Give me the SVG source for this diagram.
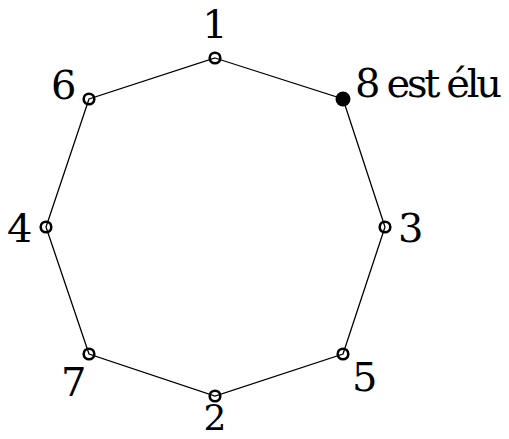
<svg xmlns="http://www.w3.org/2000/svg" width="509" height="439" viewBox="0 0 509 439">
<style>
.e{stroke:#000;stroke-width:1.3;fill:none}
.n{stroke:#000;stroke-width:2.6;fill:none}
.f{fill:#000}
.t{font-family:'DejaVu Serif',serif;font-size:40px;fill:#000}
</style>
<rect width="509" height="439" fill="#fff"/>
<g id="edges">
<polygon class="e" points="215,58 343,99 385,227 343,354 215,396 89,354 46,227 89,99"/>
</g>
<g id="n1"><circle class="n" cx="215" cy="58" r="5.3"/><text class="t" x="215" y="38" text-anchor="middle">1</text></g>
<g id="n8"><circle class="f" cx="343" cy="99" r="7.5"/><text class="t" x="355" y="97" textLength="147">8 est élu</text></g>
<g id="n3"><circle class="n" cx="385" cy="227" r="5.3"/><text class="t" x="398" y="242">3</text></g>
<g id="n5"><circle class="n" cx="343" cy="354" r="5.3"/><text class="t" x="352" y="391">5</text></g>
<g id="n2"><circle class="n" cx="215" cy="396" r="5.3"/><text class="t" x="215" y="430" text-anchor="middle" style="font-size:36px">2</text></g>
<g id="n7"><circle class="n" cx="89" cy="354" r="5.3"/><text class="t" x="61" y="396">7</text></g>
<g id="n4"><circle class="n" cx="46" cy="227" r="5.3"/><text class="t" x="7" y="242">4</text></g>
<g id="n6"><circle class="n" cx="89" cy="99" r="5.3"/><text class="t" x="51" y="99">6</text></g>
</svg>
